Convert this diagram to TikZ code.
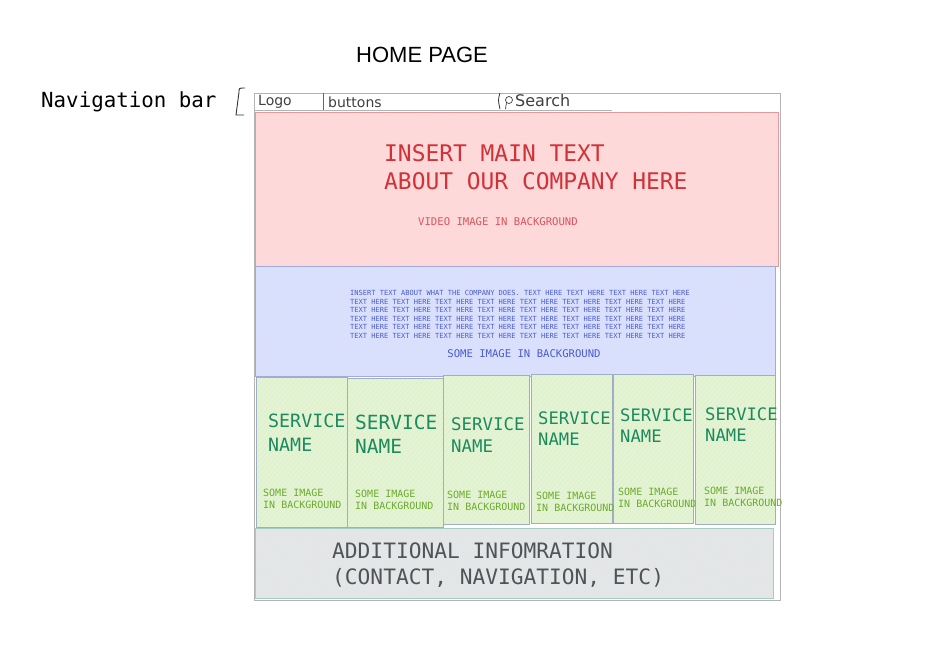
\documentclass[tikz,border=0pt]{standalone}
\usepackage{fontspec}
\setmainfont{Liberation Sans}
\newfontfamily\monof{DejaVu Sans Mono}
\newfontfamily\handf{DejaVu Sans}
\usetikzlibrary{patterns.meta}
\definecolor{redfill}{HTML}{FFD9D9}
\definecolor{redline}{HTML}{E39A9A}
\definecolor{redtext}{HTML}{D0323A}
\definecolor{redsub}{HTML}{D8545C}
\definecolor{bluefill}{HTML}{D9E0FE}
\definecolor{blueline}{HTML}{A3A9DA}
\definecolor{bluetext}{HTML}{4A5BD0}
\definecolor{greenfill}{HTML}{E3F5CE}
\definecolor{greenline}{HTML}{9EAEC4}
\definecolor{greentext}{HTML}{1C8A5E}
\definecolor{greensub}{HTML}{6DAA2E}
\definecolor{grayfill}{HTML}{E4E5E7}
\definecolor{grayline}{HTML}{A6CCC4}
\definecolor{graytext}{HTML}{505458}
\definecolor{frame}{HTML}{B4B4B4}
\tikzset{
  x=1pt,y=-1pt,
  sect/.style={line width=0.8pt},
  svc/.style={font=\monof\fontsize{18.3}{23.5}\selectfont,text=greentext,anchor=north west,align=left,inner sep=0pt},
  svcsub/.style={font=\monof\fontsize{10}{12}\selectfont,text=greensub,anchor=north west,align=left,inner sep=0pt},
  hand/.style={font=\handf\fontsize{14}{14}\selectfont,text=black!75,anchor=west,inner sep=0pt},
}
\newcommand{\hatchbox}[4]{% fill, line, corner1, corner2
  \fill[#1] #3 rectangle #4;
  \fill[pattern={Lines[angle=50,distance=3.5pt,line width=0.25pt]},pattern color=#2!35] #3 rectangle #4;
  \draw[#2,sect] #3 rectangle #4;}
\begin{document}
\begin{tikzpicture}
\useasboundingbox (0,0) rectangle (927,656);
\fill[white] (0,0) rectangle (927,656);
% title and label
\node[font=\fontsize{22}{24}\selectfont,anchor=center] (title) at (422,55) {HOME PAGE};
\node[font=\monof\fontsize{20.8}{22}\selectfont,anchor=west,inner sep=0pt] (navlbl) at (41,102) {Navigation bar};
\draw[black!80,line width=0.9pt] (245,88) .. controls (239,88) .. (239,92) -- (236,115) -- (244,115);
% outer frame
\draw[frame,line width=0.8pt] (254,93) rectangle (780,600);
% nav bar
\draw[frame,line width=0.8pt] (254,110) -- (612,110);
\draw[black!60,line width=0.6pt] (323,93) -- (323,110);
\draw[black!80,line width=0.8pt] (500,93) .. controls (498,100) .. (500,109);
\node[hand] (logo) at (258,102) {Logo};
\node[hand] (buttons) at (328,102) {buttons};
\draw[black!75,line width=0.7pt] (509,100) circle (3.5) (506.5,102.5) -- (505.5,109);
\node[hand,font=\handf\fontsize{16}{16}\selectfont] (search) at (515,101) {Search};
% red hero
\hatchbox{redfill}{redline}{(255,112)}{(778,266)}
\node[font=\monof\fontsize{22.9}{28}\selectfont,text=redtext,anchor=north west,align=left,inner sep=0pt] (hero) at (384,144) {INSERT MAIN TEXT\\ABOUT OUR COMPANY HERE};
\node[font=\monof\fontsize{10.6}{12}\selectfont,text=redsub,anchor=center] (video) at (498,222) {VIDEO IMAGE IN BACKGROUND};
% blue section
\hatchbox{bluefill}{blueline}{(255,266)}{(775,376)}
\node[font=\monof\fontsize{7.05}{8.6}\selectfont,text=bluetext,anchor=north west,align=left,inner sep=0pt] (about) at (350,290) {INSERT TEXT ABOUT WHAT THE COMPANY DOES. TEXT HERE TEXT HERE TEXT HERE TEXT HERE\\TEXT HERE TEXT HERE TEXT HERE TEXT HERE TEXT HERE TEXT HERE TEXT HERE TEXT HERE\\TEXT HERE TEXT HERE TEXT HERE TEXT HERE TEXT HERE TEXT HERE TEXT HERE TEXT HERE\\TEXT HERE TEXT HERE TEXT HERE TEXT HERE TEXT HERE TEXT HERE TEXT HERE TEXT HERE\\TEXT HERE TEXT HERE TEXT HERE TEXT HERE TEXT HERE TEXT HERE TEXT HERE TEXT HERE\\TEXT HERE TEXT HERE TEXT HERE TEXT HERE TEXT HERE TEXT HERE TEXT HERE TEXT HERE};
\node[font=\monof\fontsize{10.6}{12}\selectfont,text=bluetext,anchor=center] (someimg) at (524,354) {SOME IMAGE IN BACKGROUND};
% services
\hatchbox{greenfill}{greenline}{(256,377)}{(347,527)}
\hatchbox{greenfill}{greenline}{(347,378)}{(443,527)}
\hatchbox{greenfill}{greenline}{(443,375)}{(529,524)}
\hatchbox{greenfill}{greenline}{(531,374)}{(612,523)}
\hatchbox{greenfill}{greenline}{(613,374)}{(693,523)}
\hatchbox{greenfill}{greenline}{(695,375)}{(775,524)}
\node[svc] (s1) at (268,414) {SERVICE\\NAME};
\node[svc,font=\monof\fontsize{19.5}{24}\selectfont] (s2) at (355,415) {SERVICE\\NAME};
\node[svc,font=\monof\fontsize{17.4}{22}\selectfont] (s3) at (451,417) {SERVICE\\NAME};
\node[svc,font=\monof\fontsize{17.2}{21}\selectfont] (s4) at (538,412) {SERVICE\\NAME};
\node[svc,font=\monof\fontsize{17.2}{21}\selectfont] (s5) at (620,409) {SERVICE\\NAME};
\node[svc,font=\monof\fontsize{17.2}{21}\selectfont] (s6) at (705,408) {SERVICE\\NAME};
\node[svcsub] (b1) at (263,489) {SOME IMAGE\\IN BACKGROUND};
\node[svcsub] (b2) at (355,490) {SOME IMAGE\\IN BACKGROUND};
\node[svcsub] (b3) at (447,491) {SOME IMAGE\\IN BACKGROUND};
\node[svcsub] (b4) at (536,492) {SOME IMAGE\\IN BACKGROUND};
\node[svcsub] (b5) at (618,488) {SOME IMAGE\\IN BACKGROUND};
\node[svcsub] (b6) at (704,487) {SOME IMAGE\\IN BACKGROUND};
% footer
\hatchbox{grayfill}{grayline}{(255,528)}{(773,598)}
\node[font=\monof\fontsize{21.2}{26}\selectfont,text=graytext,anchor=north west,align=left,inner sep=0pt] (footer) at (332,543) {ADDITIONAL INFOMRATION\\(CONTACT, NAVIGATION, ETC)};
\end{tikzpicture}
\end{document}
